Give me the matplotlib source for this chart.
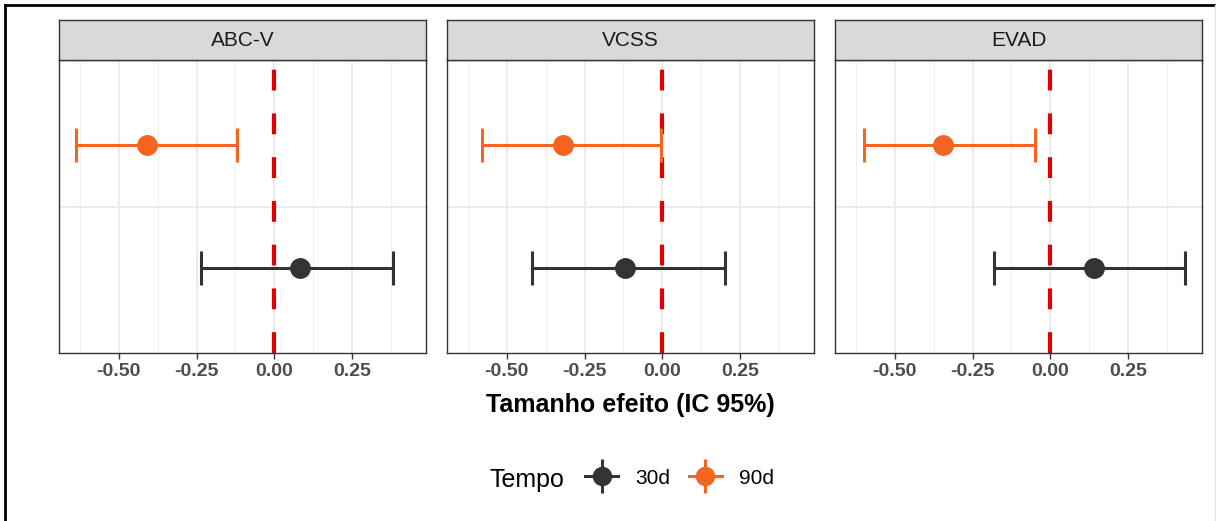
import matplotlib
matplotlib.use('Agg')
import matplotlib.pyplot as plt
from matplotlib.lines import Line2D
from matplotlib.legend_handler import HandlerTuple
import numpy as np

plt.rcParams['font.family'] = ['Liberation Sans', 'DejaVu Sans']

# effect sizes
medidas = ['ABC-V', 'VCSS', 'EVAD']
tempos = ['30d', '90d']
est_30 = [0.083, -0.119, 0.141]
lo_30 = [-0.237, -0.420, -0.180]
hi_30 = [0.381, 0.202, 0.433]
est_90 = [-0.410, -0.320, -0.346]
lo_90 = [-0.638, -0.580, -0.600]
hi_90 = [-0.119, -0.006, -0.048]

cores = {'30d': '#333333', '90d': '#F26522'}
dodge = {'30d': -0.25, '90d': 0.25}

W, H = 1216, 521
fig = plt.figure(figsize=(W / 100, H / 100), dpi=100)

# shared x range with ggplot-like 5% expansion
xmin = min(lo_30 + lo_90)
xmax = max(hi_30 + hi_90)
pad = 0.05 * (xmax - xmin)
xlim = (xmin - pad, xmax + pad)

lefts = [59, 447, 835]
pw = 367
ptop, pbot = 60, 353
stop = 20

series = {'30d': (est_30, lo_30, hi_30), '90d': (est_90, lo_90, hi_90)}

for i, m in enumerate(medidas):
    L = lefts[i]
    ax = fig.add_axes([L / W, (H - pbot) / H, pw / W, (pbot - ptop) / H])
    ax.set_xlim(xlim)
    ax.set_ylim(0.4, 1.6)
    ax.set_xticks([-0.5, -0.25, 0, 0.25])
    ax.set_xticks([-0.625, -0.375, -0.125, 0.125, 0.375], minor=True)
    ax.set_xticklabels(['-0.50', '-0.25', '0.00', '0.25'])
    ax.set_yticks([1])
    ax.set_yticklabels([])
    ax.tick_params(axis='y', length=0)
    ax.tick_params(axis='x', which='major', length=4, width=1, color='#333333',
                   labelsize=14, labelcolor='#4D4D4D', pad=3)
    ax.tick_params(axis='x', which='minor', length=0)
    for lab in ax.get_xticklabels():
        lab.set_fontweight('bold')
    ax.grid(True, which='major', color='#EBEBEB', linewidth=1.3)
    ax.grid(True, which='minor', axis='x', color='#F0F0F0', linewidth=0.9)
    ax.set_axisbelow(True)
    for s in ax.spines.values():
        s.set_color('#333333')
        s.set_linewidth(1.0)

    ax.axvline(0, color='#E00000', linewidth=3, linestyle=(0, (5, 5.5)), zorder=2)

    for t in tempos:
        est, lo, hi = series[t]
        y = 1 + dodge[t]
        ax.errorbar([est[i]], [y], xerr=[[est[i] - lo[i]], [hi[i] - est[i]]],
                    fmt='o', color=cores[t], ms=14, elinewidth=2.2,
                    capsize=12.5, capthick=2.2, zorder=3)

    sax = fig.add_axes([L / W, (H - ptop) / H, pw / W, (ptop - stop) / H])
    sax.set_facecolor('#D9D9D9')
    sax.set_xticks([])
    sax.set_yticks([])
    for s in sax.spines.values():
        s.set_color('#333333')
        s.set_linewidth(1.0)
    sax.text(0.5, 0.5, m, ha='center', va='center', fontsize=15,
             color='#1A1A1A', transform=sax.transAxes)

fig.text(630 / W, (H - 412) / H, 'Tamanho efeito (IC 95%)', ha='center',
         va='baseline', fontsize=18, fontweight='bold', color='black')

# legend
handles = []
for t in tempos:
    h1 = Line2D([], [], color=cores[t], marker='o', ms=13, linewidth=2.2)
    h2 = Line2D([], [], color=cores[t], marker='|', ms=24, mew=2.2, linestyle='')
    handles.append((h1, h2))
fig.text(490 / W, (H - 487) / H, 'Tempo', ha='left', va='baseline',
         fontsize=18, color='black')
fig.legend(handles, tempos, handler_map={tuple: HandlerTuple(ndivide=1)},
           loc='center left', bbox_to_anchor=(585 / W, (H - 478) / H),
           ncol=2, frameon=False, fontsize=15, handlelength=1.6,
           handletextpad=0.8, columnspacing=0.9, borderpad=0,
           borderaxespad=0)

# outer frame of the original image
fig.add_artist(Line2D([5 / W, 1], [(H - 5) / H, (H - 5) / H], color='black',
                      linewidth=2, transform=fig.transFigure))
fig.add_artist(Line2D([5 / W, 5 / W], [0, (H - 5) / H], color='black',
                      linewidth=2, transform=fig.transFigure))
fig.add_artist(Line2D([1214.5 / W, 1214.5 / W], [0, (H - 5) / H], color='#E6E6E6',
                      linewidth=1, transform=fig.transFigure))

fig.savefig('out.png', dpi=100, facecolor='white')
